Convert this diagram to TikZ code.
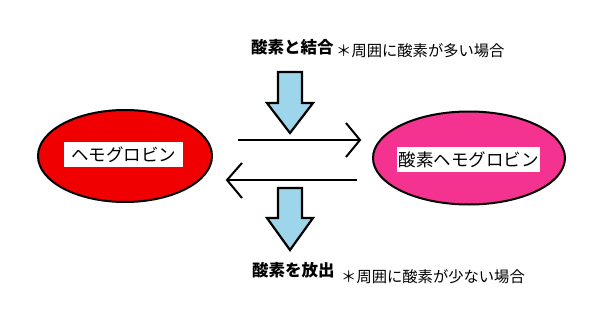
\documentclass[tikz,border=0pt]{standalone}
\usepackage{fontspec}
\setmainfont{Noto Sans CJK JP}
\usetikzlibrary{shapes.geometric,shapes.arrows}
\definecolor{hbred}{HTML}{F00000}
\definecolor{hbpink}{HTML}{F3338F}
\definecolor{arrblue}{HTML}{9DD6EA}
\begin{document}
\begin{tikzpicture}[x=1pt,y=-1pt,
  blob/.style={ellipse,draw=black,line width=2pt,inner sep=0pt},
  lbl/.style={fill=white,inner sep=0pt,font=\fontsize{17.5}{17.5}\selectfont,minimum height=25pt},
  head/.style={font=\bfseries\fontsize{16.5}{16.5}\selectfont,inner sep=0pt,anchor=west},
  note/.style={font=\fontsize{15.3}{15.3}\selectfont,inner sep=0pt,anchor=west},
  rxn/.style={line width=2pt},
  block/.style={draw=black,line width=2.2pt,fill=arrblue,line join=miter}]
\useasboundingbox (0,0) rectangle (600,318);
\fill[white] (0,0) rectangle (600,318);
% ellipses
\node[blob,fill=hbred,minimum width=174pt,minimum height=92pt] (hb) at (125,156) {};
\node[blob,fill=hbpink,minimum width=192pt,minimum height=93pt] (ohb) at (469,158) {};
\node[lbl,minimum width=119pt] (hbl) at (123.5,154.5) {ヘモグロビン};
\node[lbl,minimum width=143pt] (ohbl) at (468.5,159.5) {酸素ヘモグロビン};
% reaction arrows
\coordinate (a1s) at (238,140);
\coordinate (a1e) at (360,140);
\coordinate (a2s) at (357,180);
\coordinate (a2e) at (227,180);
\draw[rxn] (a1s) -- (a1e);
\draw[rxn,line join=miter] (346,123) -- (a1e) -- (346,157);
\draw[rxn] (a2s) -- (a2e);
\draw[rxn,line join=miter] (242,163) -- (a2e) -- (242,198);
% block arrows
\draw[block] (278,72) -- (302,72) -- (302,103) -- (313,103) -- (290,133) -- (267,103) -- (278,103) -- cycle;
\draw[block] (278,188) -- (302,188) -- (302,218) -- (313,218) -- (290,250) -- (267,218) -- (278,218) -- cycle;
% texts
\node[head] (t1) at (251,47) {酸素と結合};
\node[note] (n1) at (336,51) {＊周囲に酸素が多い場合};
\node[head] (t2) at (252,270) {酸素を放出};
\node[note] (n2) at (341,277) {＊周囲に酸素が少ない場合};
\end{tikzpicture}
\end{document}
